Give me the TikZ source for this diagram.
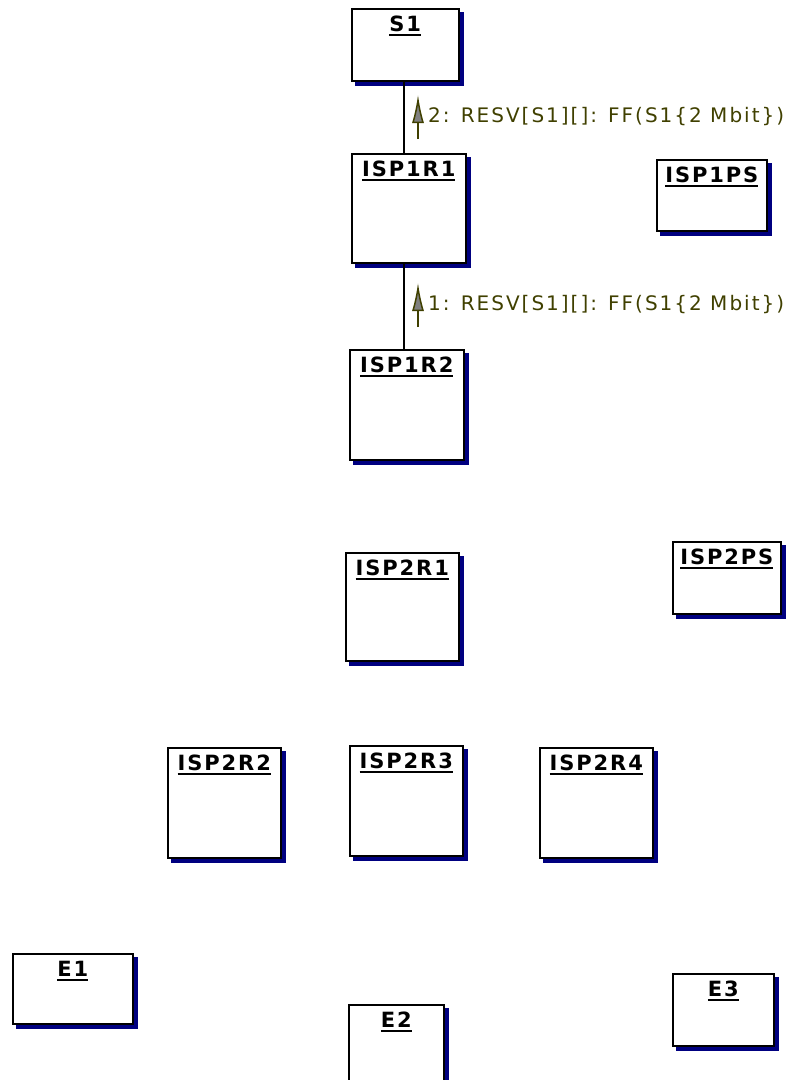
\documentclass[tikz,border=0pt]{standalone}
\usepackage{fontspec}
\setsansfont{DejaVu Sans}
\usetikzlibrary{shadows,arrows.meta}
\definecolor{navyshade}{RGB}{0,0,128}
\definecolor{msgolive}{RGB}{64,64,0}
\newcommand{\uttl}[1]{\setbox0=\hbox{#1}\copy0\kern-\wd0\rule[-4pt]{\wd0}{1.8pt}}

\begin{document}
\begin{tikzpicture}[x=1pt,y=-1pt,inner sep=0pt,
  unit/.style={draw=black, line width=1.6pt, fill=white, anchor=north west,
    copy shadow={shadow xshift=4pt, shadow yshift=-4pt, fill=navyshade, draw=navyshade}},
  ttl/.style={anchor=north, yshift=-8pt, font=\sffamily\bfseries\fontsize{21}{21}\selectfont\addfontfeature{LetterSpace=9}},
  link/.style={line width=1.5pt},
  msg/.style={draw=msgolive, line width=1.5pt, -{Latex[length=28pt,width=12pt,fill=gray]}},
  msgtext/.style={anchor=west, text=msgolive, font=\sffamily\fontsize{20}{20}\selectfont\addfontfeature{LetterSpace=10}}]

\useasboundingbox (0,0) rectangle (788,1080);

%\draw[help lines] (0,0) grid[step=100] (788,1080);
\node(s1) at (351,8) [unit, minimum width=107pt, minimum height=72pt, label={[ttl]north:\uttl{S1}}] {};
\node(isp1r1) at (351,153) [unit, minimum width=114pt, minimum height=109pt, label={[ttl]north:\uttl{ISP1R1}}] {};
\node(isp1ps) at (656,159) [unit, minimum width=110pt, minimum height=71pt, label={[ttl]north:\uttl{ISP1PS}}] {};
\node(isp1r2) at (349,349) [unit, minimum width=114pt, minimum height=110pt, label={[ttl]north:\uttl{ISP1R2}}] {};
\node(isp2r1) at (345,552) [unit, minimum width=113pt, minimum height=108pt, label={[ttl]north:\uttl{ISP2R1}}] {};
\node(isp2ps) at (672,541) [unit, minimum width=108pt, minimum height=72pt, label={[ttl]north:\uttl{ISP2PS}}] {};
\node(isp2r2) at (167,747) [unit, minimum width=113pt, minimum height=110pt, label={[ttl]north:\uttl{ISP2R2}}] {};
\node(isp2r3) at (349,745) [unit, minimum width=113pt, minimum height=110pt, label={[ttl]north:\uttl{ISP2R3}}] {};
\node(isp2r4) at (539,747) [unit, minimum width=113pt, minimum height=110pt, label={[ttl]north:\uttl{ISP2R4}}] {};
\node(e1) at (12,953) [unit, minimum width=120pt, minimum height=70pt, label={[ttl]north:\uttl{E1}}] {};
\node(e2) at (348,1004) [unit, minimum width=95pt, minimum height=110pt, label={[ttl]north:\uttl{E2}}] {};
\node(e3) at (672,973) [unit, minimum width=101pt, minimum height=72pt, label={[ttl]north:\uttl{E3}}] {};

\draw[link] ([xshift=-1.5pt]s1.south) -- ([xshift=-1.5pt]s1.south |- isp1r1.north);
\draw[link] ([xshift=-5pt]isp1r1.south) -- ([xshift=-5pt]isp1r1.south |- isp1r2.north);

\coordinate(m2) at (418,117);
\coordinate(m1) at (418,305);
\draw[msg] ([yshift=-22pt]m2) -- ([yshift=22pt]m2);
\draw[msg] ([yshift=-22pt]m1) -- ([yshift=22pt]m1);
\node(t2) at (m2) [msgtext, xshift=10pt] {2: RESV[S1][]: FF(S1\{2 Mbit\})};
\node(t1) at (m1) [msgtext, xshift=10pt] {1: RESV[S1][]: FF(S1\{2 Mbit\})};

\end{tikzpicture}
\end{document}
